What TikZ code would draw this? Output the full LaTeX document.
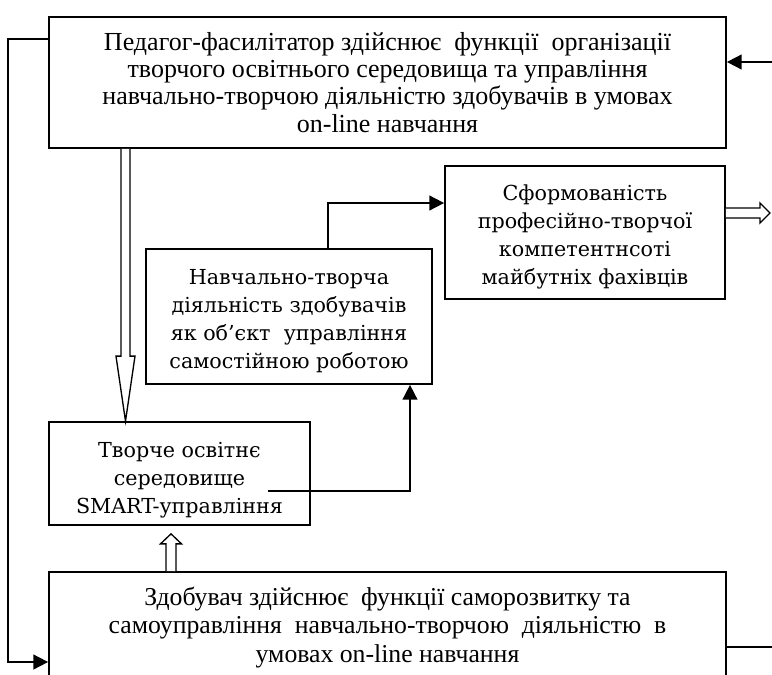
\documentclass[tikz,border=0pt]{standalone}
\usepackage{fontspec}
\setmainfont{Liberation Serif}
\newfontfamily\midfont{DejaVu Serif}
\usetikzlibrary{calc,arrows.meta}
\newcommand\shiftedlines[2]{\raisebox{#1}[\height][\depth]{\begin{tabular}{@{}c@{}}#2\end{tabular}}}
\tikzset{
  box/.style={draw, line width=1.3pt, rectangle, inner sep=0pt, align=center},
  wide/.style={font=\fontsize{19.5}{20.4}\selectfont},
  widebot/.style={font=\fontsize{19.3}{21.4}\selectfont},
  mid/.style={font=\midfont\fontsize{15.5}{21}\selectfont},
  arr/.style={line width=1.3pt, -{Triangle[length=11pt,width=11pt]}},
  conn/.style={line width=1.3pt},
  hollow/.style={line width=1pt, fill=white, line join=miter}
}
\begin{document}
\begin{tikzpicture}[x=0.75pt,y=-0.75pt]
\useasboundingbox (0,0) rectangle (772,675);
\clip (0,0) rectangle (772,675);
\node[box,wide,minimum width=507.75pt,minimum height=98.25pt] (top) at (387.5,82.5)
  {Педагог-фасилітатор здійснює\ \ функції\ \ організації\\
   творчого освітнього середовища та управління\\
   навчально-творчою діяльністю здобувачів в умовах\\
   on-line навчання};
\node[box,mid,minimum width=210pt,minimum height=99.75pt] (sf) at (585,232.5)
  {\shiftedlines{-3pt}{Сформованість\\ професійно-творчої\\ компетентнсоті\\ майбутніх фахівців}};
\node[box,mid,minimum width=214.5pt,minimum height=101.25pt] (nav) at (289,316.5)
  {\shiftedlines{-3pt}{Навчально-творча\\ діяльність здобувачів\\ як об’єкт\ \ управління\\ самостійною роботою}};
\node[box,mid,minimum width=195.75pt,minimum height=77.25pt] (tv) at (179.5,473.5)
  {\shiftedlines{-4.5pt}{Творче освітнє\\ середовище\\ SMART-управління}};
\node[box,widebot,minimum width=507.75pt,minimum height=83.25pt,anchor=north] (bot) at (387.5,571)
  {Здобувач здійснює\ \ функції саморозвитку та\\
   самоуправління\ \ навчально-творчою\ \ діяльністю\ \ в\\
   умовах on-line навчання};
% feedback loop on the left
\coordinate (L1) at (8,39);
\coordinate (L2) at (8,662);
\draw[arr] (L1 -| top.west) -- (L1) -- (L2) -- (L2 -| bot.west);
% input on the right
\coordinate (R1) at (772,62);
\draw[arr] (R1) -- (R1 -| top.east);
\coordinate (R2) at (772,647);
\draw[conn] (R2 -| bot.east) -- (R2);
% nav -> sf
\coordinate (K) at (328,203);
\draw[arr] (K |- nav.north) -- (K) -- (K -| sf.west);
% tv -> nav
\coordinate (T1) at (268,491);
\coordinate (T2) at (410,491);
\draw[arr] (T1) -- (T2) -- (T2 |- nav.south);
% hollow arrow top -> tv
\coordinate (a1) at (125.5,0);
\coordinate (a1s) at (a1 |- top.south);
\coordinate (a1e) at (a1 |- tv.north);
\draw[hollow] ($(a1s)+(-4.5,0)$) -- ($(a1e)+(-4.5,-65)$) -- ($(a1e)+(-9.5,-65)$) -- (a1e)
  -- ($(a1e)+(9.5,-65)$) -- ($(a1e)+(4.5,-65)$) -- ($(a1s)+(4.5,0)$);
% hollow arrow bot -> tv
\coordinate (a2) at (171,0);
\coordinate (a2s) at (a2 |- bot.north);
\coordinate (a2e) at ($(a2 |- tv.south)+(0,8)$);
\draw[hollow] ($(a2s)+(-5,0)$) -- ($(a2e)+(-5,10)$) -- ($(a2e)+(-10.5,10)$) -- (a2e)
  -- ($(a2e)+(10.5,10)$) -- ($(a2e)+(5,10)$) -- ($(a2s)+(5,0)$);
% hollow arrow sf -> out
\coordinate (a3) at (0,213);
\coordinate (a3s) at (a3 -| sf.east);
\coordinate (a3e) at (770,213);
\draw[hollow] ($(a3s)+(0,-5)$) -- ($(a3e)+(-10,-5)$) -- ($(a3e)+(-10,-10)$) -- (a3e)
  -- ($(a3e)+(-10,10)$) -- ($(a3e)+(-10,5)$) -- ($(a3s)+(0,5)$);
\end{tikzpicture}
\end{document}
